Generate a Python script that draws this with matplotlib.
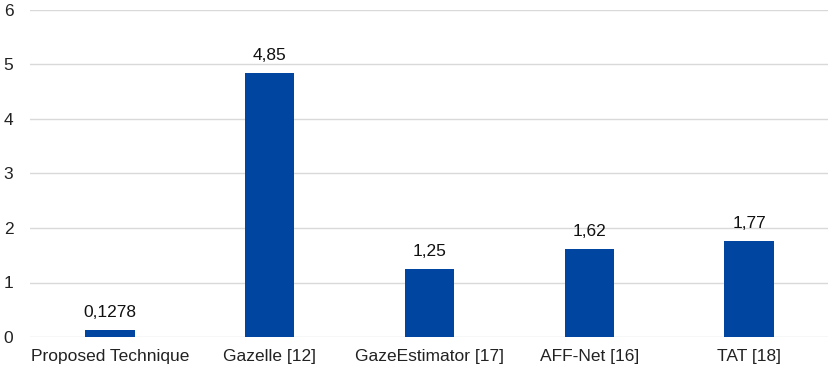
import matplotlib.pyplot as plt

methods = ["Proposed Technique", "Gazelle [12]", "GazeEstimator [17]",
           "AFF-Net [16]", "TAT [18]"]
values = [0.1278, 4.85, 1.25, 1.62, 1.77]
value_labels = ["0,1278", "4,85", "1,25", "1,62", "1,77"]

plt.rcParams["font.family"] = ["Liberation Sans", "DejaVu Sans"]

fig = plt.figure(figsize=(8.29, 3.74), dpi=100)
ax = fig.add_axes([30 / 829, (374 - 337) / 374, 799 / 829, 327 / 374])

x = list(range(len(methods)))
bars = ax.bar(x, values, width=0.31, color="#0046A0", zorder=3)

for b, lab in zip(bars, value_labels):
    ax.annotate(lab, (b.get_x() + b.get_width() / 2, b.get_height()),
                xytext=(0, 7), textcoords="offset points",
                ha="center", va="bottom", fontsize=12.5, color="#111111")

ax.set_xlim(-0.5, len(methods) - 0.5)
ax.set_ylim(0, 6)
ax.set_yticks(range(0, 7))
ax.set_xticks(x)
ax.set_xticklabels(methods)
ax.yaxis.grid(True, color="#D9D9D9", linewidth=1.0, zorder=0)
for s in ax.spines.values():
    s.set_visible(False)
ax.tick_params(axis="both", length=0, labelsize=12.5, colors="#222222")
ax.tick_params(axis="x", pad=9)
ax.tick_params(axis="y", pad=12)

fig.savefig("out.png", dpi=100)
